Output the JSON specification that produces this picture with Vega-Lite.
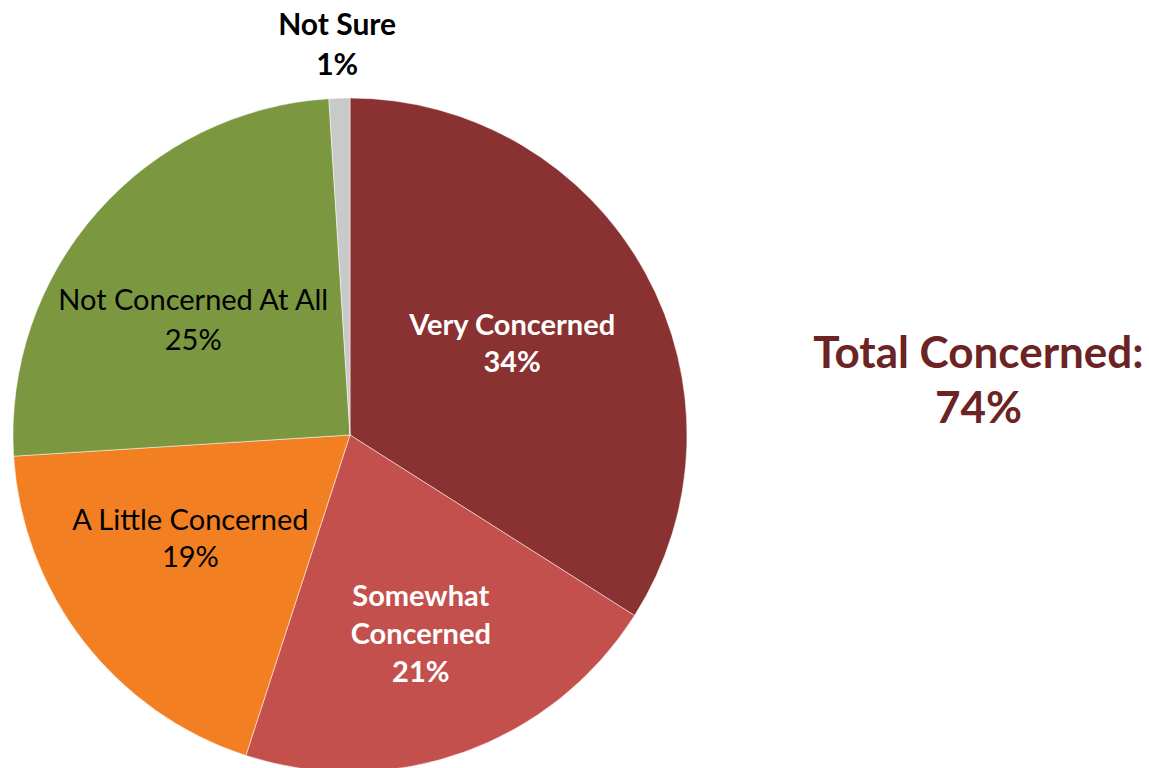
{
  "$schema": "https://vega.github.io/schema/vega-lite/v6.json",
  "padding": 0,
  "spacing": 0,
  "background": "white",
  "config": {"view": {"stroke": null}, "font": "Lato"},
  "datasets": {
    "pie": [
      {"idx": 1, "cat": "Very Concerned", "pct": 34, "label": "Very Concerned\n34%"},
      {"idx": 2, "cat": "Somewhat Concerned", "pct": 21, "label": "Somewhat\nConcerned\n21%"},
      {"idx": 3, "cat": "A Little Concerned", "pct": 19, "label": "A Little Concerned\n19%"},
      {"idx": 4, "cat": "Not Concerned At All", "pct": 25, "label": "Not Concerned At All\n25%"},
      {"idx": 5, "cat": "Not Sure", "pct": 1, "label": "Not Sure\n1%"}
    ],
    "total": [{"label": "Total Concerned:\n74%"}]
  },
  "hconcat": [
    {
      "width": 700,
      "height": 870,
      "data": {"name": "pie"},
      "encoding": {
        "theta": {"field": "pct", "type": "quantitative", "stack": true},
        "order": {"field": "idx", "type": "quantitative", "sort": "ascending"}
      },
      "layer": [
        {
          "mark": {"type": "arc", "outerRadius": 337, "stroke": "#ffffff", "strokeWidth": 0.5},
          "encoding": {
            "color": {
              "field": "cat",
              "type": "nominal",
              "scale": {
                "domain": ["Very Concerned", "Somewhat Concerned", "A Little Concerned", "Not Concerned At All", "Not Sure"],
                "range": ["#8a3131", "#c4504d", "#f27f22", "#7b973f", "#c9c9c9"]
              },
              "legend": null
            }
          }
        },
        {
          "mark": {"type": "text", "radius": 185, "dy": -20, "fontSize": 29, "fontWeight": "bold", "color": "white", "lineBreak": "\n", "lineHeight": 37, "baseline": "middle", "align": "center"},
          "encoding": {"text": {"condition": {"test": "datum.idx == 1", "field": "label"}, "value": ""}}
        },
        {
          "mark": {"type": "text", "radius": 209, "dy": -35, "fontSize": 29, "fontWeight": "bold", "color": "white", "lineBreak": "\n", "lineHeight": 38, "baseline": "middle", "align": "center"},
          "encoding": {"text": {"condition": {"test": "datum.idx == 2", "field": "label"}, "value": ""}}
        },
        {
          "mark": {"type": "text", "radius": 202, "dy": -38, "fontSize": 29, "fontWeight": "normal", "color": "black", "lineBreak": "\n", "lineHeight": 37, "baseline": "middle", "align": "center"},
          "encoding": {"text": {"condition": {"test": "datum.idx == 3", "field": "label"}, "value": ""}}
        },
        {
          "mark": {"type": "text", "radius": 209, "dy": 4, "fontSize": 29, "fontWeight": "normal", "color": "black", "lineBreak": "\n", "lineHeight": 40, "baseline": "middle", "align": "center"},
          "encoding": {"text": {"condition": {"test": "datum.idx == 4", "field": "label"}, "value": ""}}
        },
        {
          "mark": {"type": "text", "radius": 409, "dy": 0, "fontSize": 30, "fontWeight": "bold", "color": "black", "lineBreak": "\n", "lineHeight": 40, "baseline": "middle", "align": "center"},
          "encoding": {"text": {"condition": {"test": "datum.idx == 5", "field": "label"}, "value": ""}}
        }
      ]
    },
    {
      "width": 449,
      "height": 870,
      "data": {"name": "total"},
      "mark": {"type": "text", "fontSize": 44, "fontWeight": "bold", "color": "#6b2323", "lineBreak": "\n", "lineHeight": 55, "baseline": "middle", "align": "center", "dx": 45, "dy": -80},
      "encoding": {"text": {"field": "label", "type": "nominal"}}
    }
  ]
}
